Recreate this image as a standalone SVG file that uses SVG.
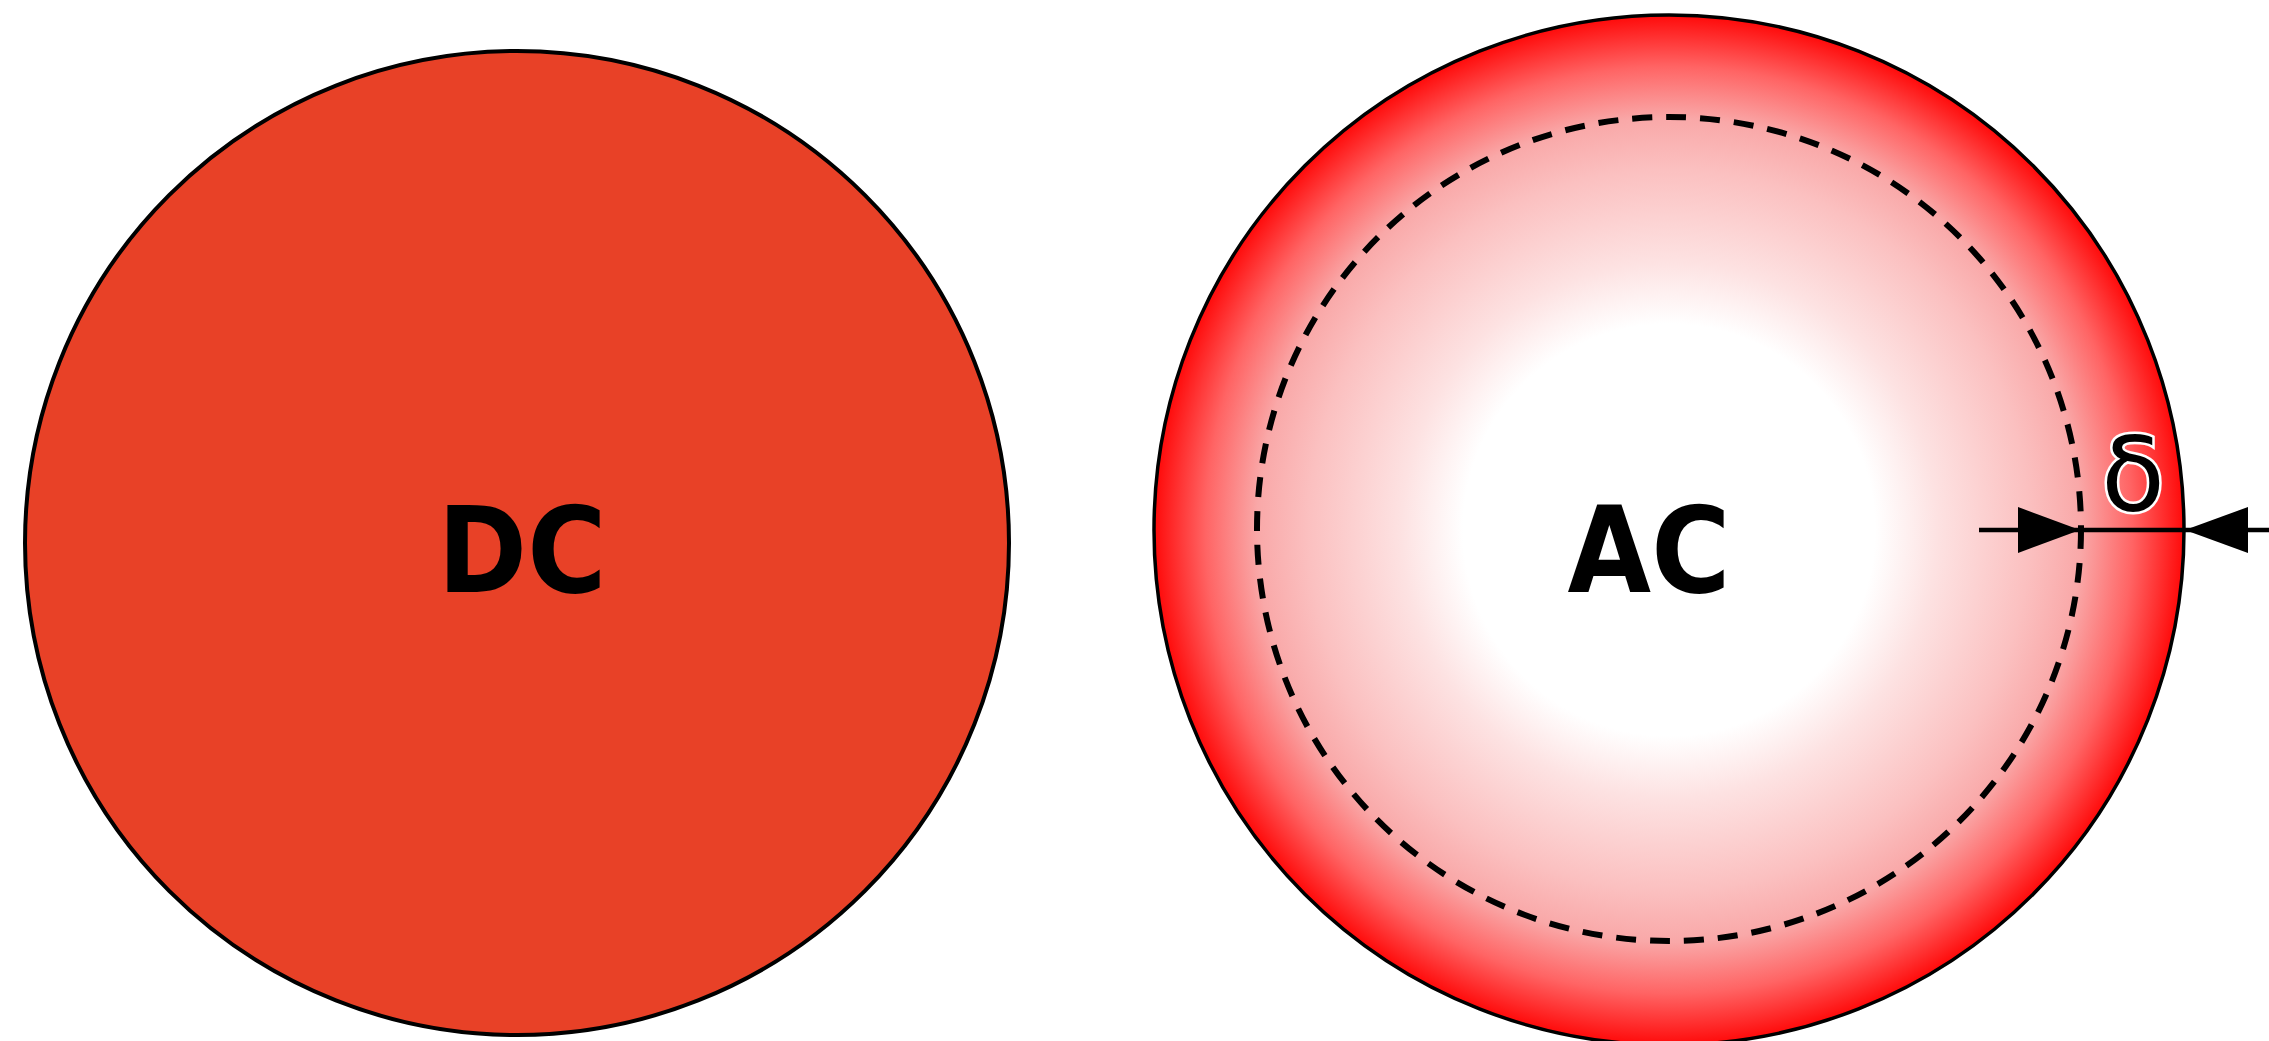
<svg xmlns="http://www.w3.org/2000/svg" width="2269" height="1041" viewBox="0 0 2269 1041">
<defs>
<style>
.lbl{font-family:"DejaVu Sans",Verdana,sans-serif;font-weight:bold;font-size:120px;fill:#000}
.delta{font-family:"DejaVu Sans",sans-serif;font-size:104px;fill:#000;stroke:#fff;stroke-width:5px;paint-order:stroke}
.dim{stroke:#000;stroke-width:4.5;fill:none}
.head{fill:#000}
</style>
<radialGradient id="acg" cx="0.5" cy="0.5" r="0.5">
<stop offset="0" stop-color="#ffffff"/>
<stop offset="0.4" stop-color="#ffffff"/>
<stop offset="0.52" stop-color="#fde2e2"/>
<stop offset="0.7" stop-color="#fbc0c0"/>
<stop offset="0.8" stop-color="#f9a8a8"/>
<stop offset="0.9" stop-color="#ff6464"/>
<stop offset="1" stop-color="#ff0a0a"/>
</radialGradient>
</defs>
<rect width="2269" height="1041" fill="#fff"/>
<g id="dc">
<circle cx="517" cy="543" r="492" fill="#e84127" stroke="#000" stroke-width="4"/>
<text class="lbl" transform="translate(522 592) scale(0.9 1)" text-anchor="middle">DC</text>
</g>
<g id="ac">
<circle cx="1669" cy="530" r="515" fill="url(#acg)" stroke="#000" stroke-width="3.5"/>
<circle cx="1669" cy="529" r="412" fill="none" stroke="#000" stroke-width="6" stroke-dasharray="20 14"/>
<text class="lbl" transform="translate(1649 592) scale(0.9 1)" text-anchor="middle">AC</text>
</g>
<g id="connectors">
<line class="dim" x1="1979" y1="530" x2="2269" y2="530"/>
<polygon class="head" points="2018,507 2080,530 2018,553"/>
<polygon class="head" points="2248,507 2185,530 2248,553"/>
<text class="delta" x="2133" y="511" text-anchor="middle">δ</text>
</g>
</svg>
